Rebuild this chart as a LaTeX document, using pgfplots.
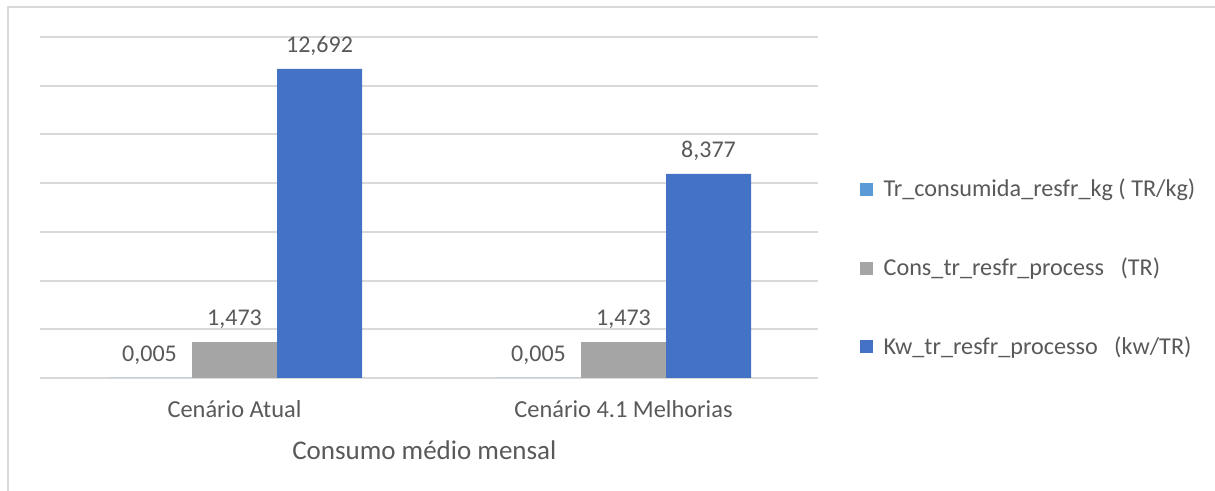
\documentclass[border=0pt]{standalone}
\usepackage{pgfplots}
\pgfplotsset{compat=1.18}
\usepackage{fontspec}
\setmainfont{Carlito}
\definecolor{lblue}{HTML}{5B9BD5}
\definecolor{mgray}{HTML}{A5A5A5}
\definecolor{dblue}{HTML}{4472C4}
\definecolor{txt}{HTML}{595959}
\definecolor{grd}{HTML}{D9D9D9}
\begin{document}
\begin{tikzpicture}
\useasboundingbox (0,0) rectangle (607.5pt,245.5pt);
\draw[grd, line width=1pt] (4pt,0) -- (4pt,242pt) -- (607.5pt,242pt);
\begin{axis}[
  at={(20pt,56.5pt)}, anchor=south west,
  width=389pt, height=170.5pt, scale only axis,
  xmin=-0.5, xmax=1.5, ymin=0, ymax=14,
  ytick={0,2,...,14}, yticklabels={},
  xtick={0,1}, xticklabels={Cenário Atual, Cenário 4.1 Melhorias},
  ymajorgrids, grid style={grd, line width=1pt},
  axis line style={draw=none}, major tick style={draw=none},
  ybar, bar width=42.5pt,
  xlabel={Consumo médio mensal},
  xlabel style={at={(axis description cs:0.494,-0.211)}, anchor=center},
  ticklabel style={font=\fontsize{12.2}{14}\selectfont, text=txt},
  xticklabel style={yshift=-3.5pt},
  label style={font=\fontsize{13.5}{16}\selectfont, text=txt},
  nodes near coords, point meta=explicit symbolic,
  every node near coord/.append style={font=\fontsize{12}{14}\selectfont, text=txt, yshift=3pt},
  legend style={at={(1.053,0.322)}, anchor=west, draw=none, fill=none,
    font=\fontsize{12.1}{14}\selectfont, text=txt, row sep=25pt, inner sep=0pt},
  legend cell align=left,
  legend image code/.code={\fill[#1] (0pt,-3.25pt) rectangle (6.5pt,3.25pt); \path (10pt,0pt);},
]
\addplot[fill=lblue, draw=none, bar shift=-42.5pt] coordinates {(0,0.005) [0,005] (1,0.005) [0,005]};
\addplot[fill=mgray, draw=none, bar shift=0pt] coordinates {(0,1.473) [1,473] (1,1.473) [1,473]};
\addplot[fill=dblue, draw=none, bar shift=42.5pt] coordinates {(0,12.692) [12,692] (1,8.377) [8,377]};
\legend{Tr\_consumida\_resfr\_kg ( TR/kg), Cons\_tr\_resfr\_process \ \ (TR), Kw\_tr\_resfr\_processo \ \ (kw/TR)}
\end{axis}
\end{tikzpicture}
\end{document}
